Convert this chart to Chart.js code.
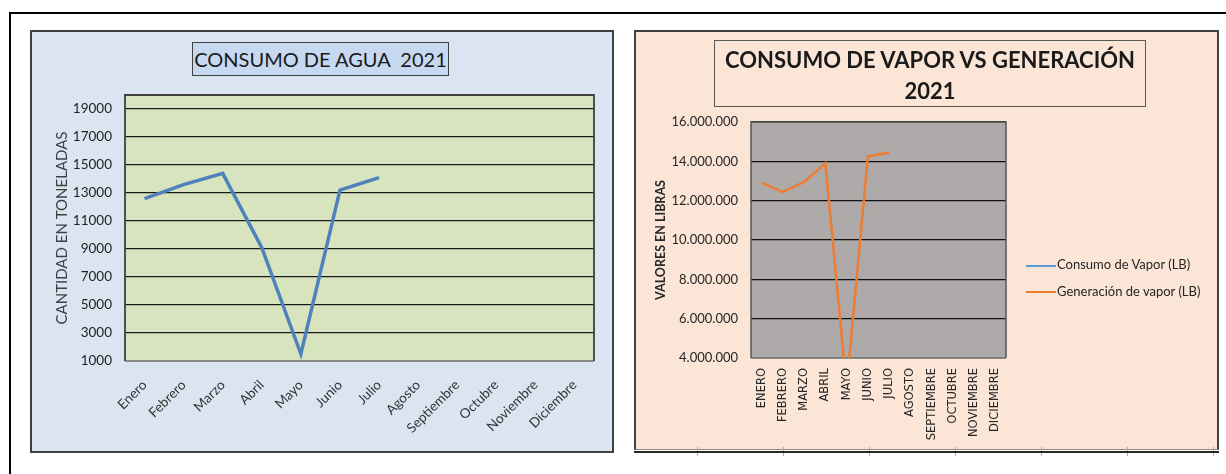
<!DOCTYPE html>
<html lang="es">
<head>
<meta charset="UTF-8">
<title>Consumo de agua y vapor 2021</title>
<script src="https://cdn.jsdelivr.net/npm/chart.js"></script>
<style>
  body { margin:0; width:1226px; height:474px; background:#fff; position:relative; overflow:hidden; font-family: Lato, sans-serif; }
  .marco { position:absolute; left:9px; top:12px; width:1300px; height:600px; border-top:2px solid #000; border-left:2px solid #000; }
  .panel { position:absolute; box-sizing:border-box; border:2px solid #404040; }
  #panelAgua { left:30px; top:30px; width:584px; height:423px; background:#dbe5f1; }
  #panelVapor { left:634px; top:30px; width:585px; height:420px; background:#fbe5d6; border-bottom:1px solid #8c8c8c; }
  #lineaHoja { position:absolute; left:634px; top:451px; width:585px; height:2px; background:#262626; }
  #celdas { position:absolute; left:634px; top:447px; width:585px; height:9px;
            background:repeating-linear-gradient(to right, transparent 0 63px, #b0b0b0 63px 64px, transparent 64px 86px); }
  .caja { position:absolute; }
  #cajaAgua { left:30px; top:31px; width:583px; height:421px; }
  #cajaVapor { left:635px; top:31px; width:583px; height:418px; }
  .titulo { position:absolute; box-sizing:border-box; text-align:center; color:#1a1a1a; white-space:nowrap; }
  #tituloAgua { left:192px; top:42px; width:257px; height:34px; background:#c6d9f1; border:1px solid #404040; font-size:20px; line-height:32px; }
  #tituloVapor { left:714px; top:40px; width:432px; height:67px; border:1px solid #595959; font-weight:bold; font-size:22px; line-height:31px; padding-top:3px; }
  #leyendaVapor { position:absolute; left:1026px; top:251px; font-size:13px; color:#262626; }
  #leyendaVapor .item { height:26.5px; line-height:26.5px; white-space:nowrap; }
  #leyendaVapor .linea { display:inline-block; width:30px; height:2px; vertical-align:middle; margin-right:1px; }
</style>
</head>
<body>
<div class="marco"></div>
<div id="panelAgua" class="panel"></div>
<div id="panelVapor" class="panel"></div>
<div id="celdas"></div>
<div id="lineaHoja"></div>
<div id="cajaAgua" class="caja"><canvas id="graficoAgua"></canvas></div>
<div id="cajaVapor" class="caja"><canvas id="graficoVapor"></canvas></div>
<div id="tituloAgua" class="titulo">CONSUMO DE AGUA&nbsp; 2021</div>
<div id="tituloVapor" class="titulo">CONSUMO DE VAPOR VS GENERACIÓN<br>2021</div>
<div id="leyendaVapor"></div>

<script>
    // meses
    const meses = ["Enero", "Febrero", "Marzo", "Abril", "Mayo", "Junio", "Julio",
                   "Agosto", "Septiembre", "Octubre", "Noviembre", "Diciembre"];
    const mesesMayus = ["ENERO", "FEBRERO", "MARZO", "ABRIL", "MAYO", "JUNIO", "JULIO",
                        "AGOSTO", "SEPTIEMBRE", "OCTUBRE", "NOVIEMBRE", "DICIEMBRE"];

    // agua (toneladas), solo hasta julio
    const aguaToneladas = [12600, 13600, 14400, 9100, 1500, 13200, 14100];
    const aguaTicks = [1000, 3000, 5000, 7000, 9000, 11000, 13000, 15000, 17000, 19000];

    // vapor (libras)
    const consumoVapor = [];
    const generacionVapor = [12900000, 12450000, 12950000, 13900000, 2500000, 14250000, 14450000];
    const vaporTicks = [4000000, 6000000, 8000000, 10000000, 12000000, 14000000, 16000000];

    function conPuntos(v) {
        return String(v).replace(/\B(?=(\d{3})+(?!\d))/g, ".");
    }

    // fondo y borde del area de trazado
    const areaTrazado = {
        id: "areaTrazado",
        beforeDraw(chart, args, opts) {
            const { ctx, chartArea: a } = chart;
            ctx.save();
            ctx.fillStyle = opts.fondo;
            ctx.fillRect(a.left, a.top, a.width, a.height);
            ctx.restore();
        },
        beforeDatasetsDraw(chart, args, opts) {
            const { ctx, chartArea: a } = chart;
            ctx.save();
            ctx.lineWidth = opts.grosor;
            ctx.strokeStyle = opts.abajo;
            ctx.beginPath();
            ctx.moveTo(a.left, a.bottom); ctx.lineTo(a.right, a.bottom);
            ctx.stroke();
            ctx.strokeStyle = opts.borde;
            ctx.beginPath();
            ctx.moveTo(a.left, a.bottom); ctx.lineTo(a.left, a.top);
            ctx.lineTo(a.right, a.top); ctx.lineTo(a.right, a.bottom);
            ctx.stroke();
            ctx.restore();
        }
    };

    Chart.defaults.font.family = "Lato, sans-serif";
    Chart.defaults.color = "#333";

    new Chart(document.getElementById("graficoAgua"), {
        type: "line",
        data: {
            labels: meses,
            datasets: [{
                label: "Consumo de agua",
                data: aguaToneladas,
                borderColor: "#4f81bd",
                borderWidth: 3.5,
                pointRadius: 0,
                tension: 0
            }]
        },
        options: {
            responsive: true,
            maintainAspectRatio: false,
            animation: false,
            layout: { padding: { top: 64, right: 19, left: 0, bottom: 0 } },
            plugins: {
                legend: { display: false },
                tooltip: { enabled: false },
                areaTrazado: { fondo: "#d7e4bd", borde: "#404040", abajo: "#8a8a8a", grosor: 1.8 }
            },
            scales: {
                x: {
                    offset: true,
                    grid: { display: false },
                    border: { display: false },
                    ticks: { autoSkip: false, minRotation: 45, maxRotation: 45, padding: 8,
                             color: "#333", font: { size: 13.5 } },
                    afterFit: s => { s.height = 91; }
                },
                y: {
                    min: 1000,
                    max: 20000,
                    afterBuildTicks: s => { s.ticks = aguaTicks.map(v => ({ value: v })); },
                    grid: { color: c => c.tick.value === 1000 ? "rgba(0,0,0,0)" : "#1a1a1a",
                            lineWidth: 1.3, drawTicks: false },
                    border: { display: false },
                    ticks: { padding: 13, color: "#1f1f1f", font: { size: 13.5 },
                             callback: v => String(v) },
                    title: { display: true, text: "CANTIDAD EN TONELADAS", color: "#404040",
                             font: { size: 15 }, padding: { top: 23, bottom: 0 } },
                    afterFit: s => { s.width = 95; }
                }
            }
        },
        plugins: [areaTrazado]
    });

    const graficoVapor = new Chart(document.getElementById("graficoVapor"), {
        type: "line",
        data: {
            labels: mesesMayus,
            datasets: [{
                label: "Consumo de Vapor (LB)",
                data: consumoVapor,
                borderColor: "#5b9bd5",
                borderWidth: 2.5,
                pointRadius: 0
            }, {
                label: "Generación de vapor (LB)",
                data: generacionVapor,
                borderColor: "#ed7d31",
                borderWidth: 2.5,
                pointRadius: 0,
                tension: 0
            }]
        },
        options: {
            responsive: true,
            maintainAspectRatio: false,
            animation: false,
            layout: { padding: { top: 91, right: 212, left: 0, bottom: 0 } },
            plugins: {
                legend: { display: false },
                tooltip: { enabled: false },
                areaTrazado: { fondo: "#aeaaaa", borde: "#555", abajo: "#6a6a6a", grosor: 1.5 }
            },
            scales: {
                x: {
                    offset: true,
                    grid: { display: false },
                    border: { display: false },
                    ticks: { autoSkip: false, minRotation: 90, maxRotation: 90, padding: 2,
                             color: "#262626", font: { family: "DejaVu Sans", size: 11.5 } },
                    afterFit: s => { s.height = 91; }
                },
                y: {
                    min: 4000000,
                    max: 16000000,
                    afterBuildTicks: s => { s.ticks = vaporTicks.map(v => ({ value: v })); },
                    grid: { color: c => c.tick.value === 4000000 ? "rgba(0,0,0,0)" : "#111",
                            lineWidth: 1.3, drawTicks: false },
                    border: { display: false },
                    ticks: { padding: 13, color: "#262626", font: { size: 13 },
                             callback: v => conPuntos(v) },
                    title: { display: true, text: "VALORES EN LIBRAS", color: "#262626",
                             font: { size: 12.5, weight: "bold" }, padding: { top: 18, bottom: 0 } },
                    afterFit: s => { s.width = 116; }
                }
            }
        },
        plugins: [areaTrazado]
    });

    // leyenda a la derecha, a partir de las series
    const leyenda = document.getElementById("leyendaVapor");
    graficoVapor.data.datasets.forEach(ds => {
        leyenda.insertAdjacentHTML("beforeend",
            `<div class="item"><span class="linea" style="background:${ds.borderColor}"></span>${ds.label}</div>`);
    });
</script>
</body>
</html>
